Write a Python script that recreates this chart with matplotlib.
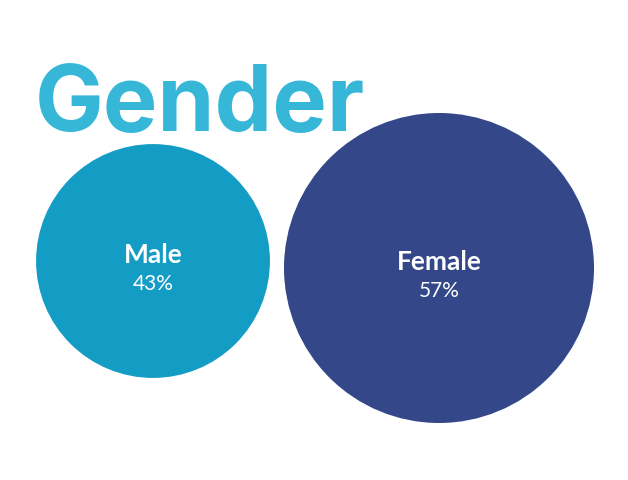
import matplotlib
matplotlib.use("Agg")
import matplotlib.pyplot as plt
from matplotlib.patches import Circle

title = "Gender"
labels = ["Male", "Female"]
values = [43, 57]
colors = ["#139cc4", "#334789"]

# layout in pixel coordinates (y down)
centers = [(153, 262), (439, 269)]
px_per_pct = 155 / 57

fig = plt.figure(figsize=(6.28, 4.81), dpi=100)
ax = fig.add_axes([0, 0, 1, 1])
ax.set_xlim(0, 628)
ax.set_ylim(481, 0)
ax.set_aspect("equal")
ax.axis("off")

for (cx, cy), lab, v, c in zip(centers, labels, values, colors):
    ax.add_patch(Circle((cx, cy), v * px_per_pct, color=c, lw=0))
    ax.text(cx, cy + 1, lab, ha="center", va="baseline", color="white",
            fontsize=19, fontweight="bold", family="Lato")
    ax.text(cx, cy + 28, f"{v}%", ha="center", va="baseline", color="white",
            fontsize=15, fontweight="normal", family="Lato")

ax.text(35, 131, title, ha="left", va="baseline", color="#36b7d8",
        fontsize=66, fontweight="bold", family="Inter")

fig.savefig("out.png", dpi=100)
